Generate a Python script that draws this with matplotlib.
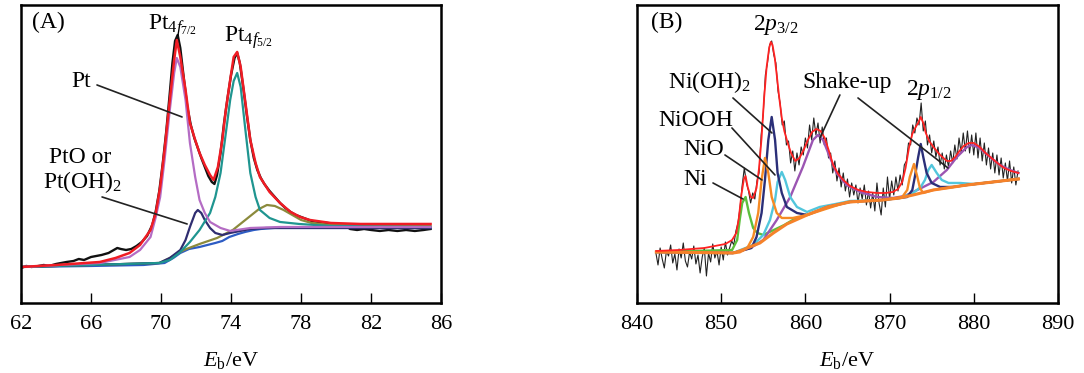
import matplotlib
matplotlib.use('Agg')
import matplotlib.pyplot as plt
import numpy as np

plt.rcParams['font.family'] = ['Liberation Serif', 'DejaVu Serif']
plt.rcParams['mathtext.fontset'] = 'custom'
plt.rcParams['mathtext.rm'] = 'Liberation Serif'
plt.rcParams['mathtext.it'] = 'Liberation Serif:italic'
plt.rcParams['mathtext.bf'] = 'Liberation Serif:bold'

# ---------------- Panel A : Pt 4f ----------------
a_black_x = [62.0, 62.3, 62.6, 63.0, 63.3, 63.6, 64.0, 64.3, 64.6, 65.0, 65.3, 65.6, 66.0, 66.3, 66.6,
             67.0, 67.3, 67.5, 67.7, 68.0, 68.3, 68.6, 68.9, 69.2, 69.5, 69.7, 69.9, 70.1, 70.3, 70.5,
             70.65, 70.8, 70.95, 71.1, 71.3, 71.5, 71.7, 71.9, 72.1, 72.3, 72.5, 72.7, 72.9, 73.05, 73.2,
             73.4, 73.6, 73.8, 74.0, 74.2, 74.35, 74.5, 74.7, 74.9, 75.1, 75.3, 75.5, 75.7, 75.9, 76.2,
             76.5, 76.8, 77.1, 77.4, 77.7, 78.0, 78.3, 78.6, 79.0, 79.5, 80.0, 80.5, 80.8, 81.2, 81.6,
             82.0, 82.5, 83.0, 83.5, 84.0, 84.5, 85.0, 85.4]
a_black_y = [35, 37, 36, 37, 38, 37, 39, 40, 41, 42, 44, 43, 46, 47, 48,
             50, 53, 55, 54, 53, 54, 57, 61, 67, 78, 92, 112, 140, 172, 210,
             240, 262, 268, 255, 225, 196, 178, 165, 155, 145, 136, 127, 121, 119, 128,
             150, 180, 205, 228, 245, 250, 240, 215, 188, 163, 145, 133, 125, 119, 112,
             106, 100, 95, 91, 88, 86, 84, 82, 81, 80, 79, 78, 74, 73, 74,
             73, 72, 73, 72, 73, 72, 73, 74]

a_fit_x = [62.0, 64.0, 66.5, 67.4, 68.2, 68.8, 69.4, 69.7, 69.95, 70.2, 70.5, 70.75, 70.9, 71.1, 71.4,
           71.65, 71.95, 72.2, 72.5, 72.8, 73.0, 73.25, 73.5, 73.7, 73.95, 74.15, 74.35, 74.55, 74.8,
           75.1, 75.4, 75.65, 76.2, 76.8, 77.4, 77.95, 78.5, 79.7, 81.4, 85.4]
a_fit_y = [36, 38, 41, 45, 50, 58, 73, 90, 116, 153, 203, 243, 263, 246, 213,
           180, 163, 150, 138, 128, 123, 136, 163, 193, 223, 246, 251, 236, 203,
           163, 140, 126, 111, 100, 91, 86, 83, 80, 79, 79]

a_bg_x = [62.0, 66.0, 69.0, 70.2, 70.7, 71.1, 71.6, 72.2, 73.1, 73.5, 73.9, 74.4, 74.8, 75.3, 75.7, 76.5, 77.9, 85.4]
a_bg_y = [36, 37, 38, 40, 45, 50, 54, 56, 60, 62, 66, 69, 71, 73, 74, 75, 75, 75]

a_pt72_x = [62.0, 66.5, 68.2, 68.8, 69.4, 69.7, 69.95, 70.2, 70.5, 70.75, 70.9, 71.1, 71.4, 71.65,
            71.95, 72.2, 72.5, 72.8, 73.4, 73.95, 75.1, 76.8, 79.0, 85.4]
a_pt72_y = [36, 40, 46, 53, 66, 86, 106, 143, 193, 230, 245, 236, 203, 160,
            126, 103, 90, 81, 75, 72, 75, 76, 76, 76]

a_pt52_x = [62.0, 69.9, 70.5, 71.1, 71.65, 72.2, 72.8, 73.1, 73.4, 73.65, 73.95, 74.15, 74.35, 74.55,
            74.8, 75.1, 75.4, 75.65, 76.2, 76.8, 77.9, 79.7, 85.4]
a_pt52_y = [36, 40, 43, 51, 61, 73, 90, 106, 130, 163, 203, 222, 230, 216,
            176, 130, 106, 93, 85, 81, 79, 77, 76]

a_pto72_x = [62.0, 69.9, 70.5, 71.1, 71.4, 71.65, 71.95, 72.1, 72.3, 72.5, 72.8, 73.1, 73.5, 73.95, 75.1, 76.0, 85.4]
a_pto72_y = [36, 40, 45, 53, 63, 76, 90, 93, 90, 83, 75, 70, 68, 70, 74, 75, 75]

a_pto52_x = [62.0, 69.9, 70.5, 71.3, 72.2, 73.2, 74.1, 74.6, 75.1, 75.6, 76.05, 76.5, 77.0, 77.5, 78.0, 78.6, 79.7, 85.4]
a_pto52_y = [36, 40, 45, 53, 59, 65, 73, 80, 87, 94, 98, 97, 93, 88, 83, 80, 78, 77]

a_xticks = [62, 66, 70, 74, 78, 82, 86]

# ---------------- Panel B : Ni 2p ----------------
b_black_start = 842.25
b_black_step = 0.25
b_black_y = [50, 38, 55, 44, 35, 52, 47, 58,
             40, 49, 33, 54, 45, 60, 42, 36,
             51, 44, 57, 39, 48, 30, 46, 55,
             27, 50, 41, 59, 45, 52, 38, 56,
             43, 61, 48, 55, 62, 58, 72, 80,
             96, 118, 135, 120, 112, 100, 110, 104,
             122, 130, 168, 190, 228, 240, 258, 262,
             248, 240, 212, 200, 178, 182, 158, 162,
             140, 152, 132, 150, 138, 156, 148, 165,
             155, 178, 163, 185, 168, 180, 160, 176,
             158, 165, 145, 150, 130, 142, 122, 135,
             116, 130, 112, 124, 106, 120, 108, 118,
             100, 115, 104, 118, 98, 112, 95, 110,
             92, 120, 100, 88, 115, 96, 126, 104,
             122, 108, 126, 112, 128, 118, 138, 142,
             160, 158, 178, 170, 185, 178, 200, 172,
             182, 158, 168, 150, 162, 146, 156, 138,
             150, 134, 148, 136, 152, 140, 158, 144,
             165, 150, 170, 152, 172, 150, 168, 148,
             170, 145, 165, 142, 160, 138, 155, 134,
             150, 130, 148, 128, 145, 125, 140, 122,
             142, 120, 136, 118, 132]

b_fit_x = [842.3, 845.0, 848.0, 850.5, 851.3, 851.8, 852.1, 852.4, 852.7, 852.9, 853.15, 853.5, 853.8,
           854.2, 854.5, 854.8, 855.1, 855.4, 855.7, 855.9, 856.1, 856.35, 856.6, 856.9, 857.2, 857.5,
           857.9, 858.3, 858.8, 859.3, 859.8, 860.3, 860.8, 861.3, 861.8, 862.3, 862.8, 863.3, 863.9,
           864.5, 865.3, 866.3, 867.3, 868.5, 869.5, 870.4, 871.0, 871.5, 871.9, 872.3, 872.7, 873.1,
           873.4, 873.7, 874.0, 874.3, 874.7, 875.2, 876.0, 876.8, 877.3, 877.8, 878.3, 878.8, 879.4,
           880.0, 880.7, 881.4, 882.1, 882.8, 883.6, 884.4, 885.3]
b_fit_y = [52, 53, 55, 59, 63, 70, 85, 108, 124, 127, 116, 106, 105,
           115, 135, 165, 205, 236, 255, 261, 258, 246, 228, 205, 185, 172,
           160, 150, 142, 145, 153, 163, 171, 174, 172, 165, 152, 138, 129,
           123, 117, 113, 111, 110, 110, 111, 114, 121, 135, 155, 169, 176,
           180, 186, 180, 170, 162, 156, 148, 142, 142, 146, 152, 157, 160,
           160, 156, 150, 145, 140, 135, 132, 130]

b_bg_x = [842.3, 851.4, 852.2, 853.1, 854.6, 856.2, 857.8, 860.2, 862.6, 865.3, 869.2, 871.2, 872.8, 875.2, 879.2, 882.3, 885.3]
b_bg_y = [51, 50, 51, 55, 60, 70, 79, 88, 96, 101, 103, 105, 108, 113, 118, 121, 124]

b_ni_x = [842.3, 851.3, 851.9, 852.2, 852.5, 852.9, 853.3, 853.8, 854.3, 855.0, 856.0, 857.5, 858.5, 860.0]
b_ni_y = [51, 53, 63, 83, 100, 106, 90, 75, 70, 68, 72, 78, 83, 88]

b_nio_x = [842.3, 851.4, 853.1, 853.8, 854.4, 854.8, 855.2, 855.6, 856.0, 856.6, 857.2, 858.5, 860.2, 865.0,
           869.2, 871.5, 872.1, 872.4, 872.9, 873.3, 873.6, 874.0, 875.2, 879.2, 885.3]
b_nio_y = [51, 50, 55, 66, 90, 123, 145, 130, 106, 90, 85, 85, 88, 101,
           103, 106, 113, 126, 139, 126, 115, 110, 113, 118, 124]

b_nioh2_x = [842.3, 851.4, 853.6, 854.2, 854.8, 855.2, 855.6, 856.0, 856.4, 856.7, 857.2, 857.8, 859.0, 860.2,
             862.6, 865.3, 869.2, 871.2, 872.1, 872.7, 873.0, 873.4, 873.7, 874.0, 874.4, 875.0, 876.0,
             877.5, 879.2, 882.3, 885.3]
b_nioh2_y = [51, 50, 55, 66, 90, 123, 163, 186, 163, 130, 110, 96, 90, 88,
             96, 101, 103, 105, 106, 113, 126, 146, 159, 146, 130, 120, 116,
             116, 118, 121, 124]

b_niooh_x = [842.3, 851.4, 853.8, 855.0, 855.8, 856.4, 856.7, 857.2, 857.6, 858.2, 859.0, 860.2, 861.7, 863.6,
             865.3, 869.2, 871.2, 872.8, 873.7, 874.2, 874.6, 875.0, 875.6, 876.2, 877.0, 878.4, 880.0,
             882.3, 885.3]
b_niooh_y = [51, 50, 58, 68, 83, 103, 121, 131, 123, 106, 96, 91, 96, 99,
             102, 103, 105, 110, 116, 123, 133, 138, 130, 123, 120, 120, 119,
             121, 124]

b_shake_x = [842.3, 851.4, 853.5, 855.0, 856.6, 858.2, 859.7, 860.9, 861.5, 862.1, 862.9, 863.7, 864.9, 866.5,
             868.5, 870.4, 871.8, 873.3, 875.2, 876.8, 878.0, 879.2, 879.8, 880.7, 881.9, 883.1, 884.3, 885.3]
b_shake_y = [51, 50, 55, 63, 83, 106, 136, 163, 168, 163, 146, 130, 118, 111,
             106, 105, 107, 113, 121, 133, 146, 156, 158, 155, 146, 138, 133, 130]

b_xticks = [840, 850, 860, 870, 880, 890]

# ---------------- Figure ----------------
fig = plt.figure(figsize=(10.84, 3.73), dpi=100)
axA = fig.add_axes([0.0194, 0.1877, 0.3875, 0.799])
axB = fig.add_axes([0.5876, 0.1877, 0.3884, 0.799])

for ax in (axA, axB):
    for s in ax.spines.values():
        s.set_linewidth(1.8)
    ax.set_yticks([])
    ax.tick_params(axis='x', direction='in', length=7, width=1.0, pad=9, labelsize=16)
    ax.set_ylim(0, 298)
    ax.set_xlabel(r'$E_{\mathrm{b}}$/eV', fontsize=16, labelpad=11)

# Panel A
axA.plot(a_black_x, a_black_y, color='#111111', lw=1.7)
axA.plot(a_bg_x, a_bg_y, color='#2d5cc4', lw=1.6)
axA.plot(a_pto52_x, a_pto52_y, color='#8b8a3c', lw=1.6)
axA.plot(a_pto72_x, a_pto72_y, color='#2f2d70', lw=1.6)
axA.plot(a_pt52_x, a_pt52_y, color='#1f9590', lw=1.6)
axA.plot(a_pt72_x, a_pt72_y, color='#b46cc4', lw=1.6)
axA.plot(a_fit_x, a_fit_y, color='#f01c24', lw=1.8)
axA.set_xlim(62, 86)
axA.set_xticks(a_xticks)

axA.text(63.54, 281, '(A)', fontsize=17, ha='center', va='center')
axA.text(69.26, 273, r'Pt$_{4f_{7/2}}$', fontsize=17, ha='left', va='baseline')
axA.text(73.6, 261, r'Pt$_{4f_{5/2}}$', fontsize=17, ha='left', va='baseline')
axA.text(64.9, 216, 'Pt', fontsize=17, ha='left', va='baseline')
axA.text(65.37, 140, 'PtO or', fontsize=17, ha='center', va='baseline')
axA.text(65.49, 115, r'Pt(OH)$_2$', fontsize=17, ha='center', va='baseline')
lw_lead = 1.2
axA.annotate('', xy=(71.2, 186), xytext=(66.34, 218),
             arrowprops=dict(arrowstyle='-', color='#222222', lw=lw_lead, shrinkA=0, shrinkB=0))
axA.annotate('', xy=(71.49, 79), xytext=(66.63, 106),
             arrowprops=dict(arrowstyle='-', color='#222222', lw=lw_lead, shrinkA=0, shrinkB=0))

# Panel B
b_black_x = b_black_start + b_black_step * np.arange(len(b_black_y))
axB.plot(b_black_x, b_black_y, color='#222222', lw=0.8)
axB.plot(b_ni_x, b_ni_y, color='#5cbf3c', lw=1.7)
axB.plot(b_shake_x, b_shake_y, color='#9b55b2', lw=1.7)
axB.plot(b_niooh_x, b_niooh_y, color='#52c6dc', lw=1.7)
axB.plot(b_nioh2_x, b_nioh2_y, color='#2b2f78', lw=1.7)
axB.plot(b_nio_x, b_nio_y, color='#f58a24', lw=1.7)
axB.plot(b_bg_x, b_bg_y, color='#f5822a', lw=2.2)
axB.plot(b_fit_x, b_fit_y, color='#ff2222', lw=1.3)
axB.set_xlim(840, 890)
axB.set_xticks(b_xticks)

axB.text(843.56, 281, '(B)', fontsize=17, ha='center', va='center')
axB.text(853.78, 273, r'2$p_{3/2}$', fontsize=17, ha='left', va='baseline')
axB.text(843.68, 215, r'Ni(OH)$_2$', fontsize=17, ha='left', va='baseline')
axB.text(842.5, 177, 'NiOOH', fontsize=17, ha='left', va='baseline')
axB.text(845.46, 148, 'NiO', fontsize=17, ha='left', va='baseline')
axB.text(845.46, 118, 'Ni', fontsize=17, ha='left', va='baseline')
axB.text(859.6, 215, 'Shake-up', fontsize=17, ha='left', va='baseline')
axB.text(871.95, 208, r'2$p_{1/2}$', fontsize=17, ha='left', va='baseline')

leads_b = [((856.03, 170), (851.4, 205)),
           ((856.39, 128), (851.28, 175)),
           ((854.85, 123), (850.45, 148)),
           ((852.59, 104), (849.03, 120)),
           ((861.73, 165), (864.1, 208)),
           ((876.94, 135), (866.25, 205))]
for xy, xyt in leads_b:
    axB.annotate('', xy=xy, xytext=xyt,
                 arrowprops=dict(arrowstyle='-', color='#222222', lw=lw_lead, shrinkA=0, shrinkB=0))

fig.savefig('out.png', dpi=100)
